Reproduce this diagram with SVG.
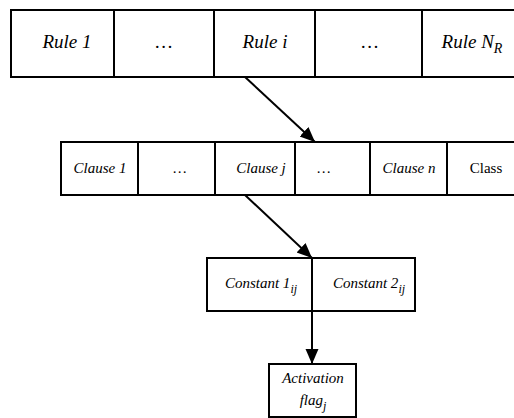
<svg xmlns="http://www.w3.org/2000/svg" width="514" height="418" viewBox="0 0 514 418">
<style>
.c{fill:#fff;stroke:#000;stroke-width:2}
text{font-family:"Liberation Serif","Times New Roman",serif;font-style:italic;fill:#000;text-anchor:middle}
.r{font-size:19px}
.s{font-size:15px}
.n{font-style:normal}
.sub{font-size:12px}
.e{stroke:#000;stroke-width:2;fill:none}
</style>
<defs>
<marker id="ah" markerUnits="userSpaceOnUse" markerWidth="16" markerHeight="14" refX="15" refY="6.5" orient="auto">
<path d="M0,0 L15,6.5 L0,13 z" fill="#000"/>
</marker>
</defs>
<g id="rule1"><rect class="c" x="11" y="10" width="103" height="67"/><text class="r" x="67" y="48">Rule 1</text></g>
<g id="rule-dots1"><rect class="c" x="114" y="10" width="100" height="67"/><text class="r" x="164" y="48">…</text></g>
<g id="rule-i"><rect class="c" x="214" y="10" width="101" height="67"/><text class="r" x="265" y="48">Rule i</text></g>
<g id="rule-dots2"><rect class="c" x="315" y="10" width="107" height="67"/><text class="r" x="370" y="48">…</text></g>
<g id="rule-nr"><rect class="c" x="422" y="10" width="96" height="67"/><text class="r" x="472" y="48">Rule N<tspan dy="5" font-size="14">R</tspan></text></g>

<g id="clause1"><rect class="c" x="61" y="142" width="77" height="53"/><text class="s" x="100" y="173">Clause 1</text></g>
<g id="clause-dots1"><rect class="c" x="138" y="142" width="77" height="53"/><text class="s" x="180" y="173">…</text></g>
<g id="clause-j"><rect class="c" x="215" y="142" width="80" height="53"/><text class="s" x="261" y="173">Clause j</text></g>
<g id="clause-dots2"><rect class="c" x="295" y="142" width="75" height="53"/><text class="s" x="324" y="173">…</text></g>
<g id="clause-n"><rect class="c" x="370" y="142" width="77" height="53"/><text class="s" x="409" y="173">Clause n</text></g>
<g id="class"><rect class="c" x="447" y="142" width="72" height="53"/><text class="s n" x="486" y="173">Class</text></g>

<g id="constant1"><rect class="c" x="207" y="258" width="105" height="53"/><text class="s" x="261" y="288">Constant 1<tspan class="sub" dy="5">ij</tspan></text></g>
<g id="constant2"><rect class="c" x="312" y="258" width="103" height="53"/><text class="s" x="369" y="288">Constant 2<tspan class="sub" dy="5">ij</tspan></text></g>

<g id="activation"><rect class="c" x="269" y="364" width="87" height="53"/><text class="s" x="313" y="383">Activation</text><text class="s" x="313" y="405">flag<tspan class="sub" dy="5">j</tspan></text></g>

<g id="connectors">
<line class="e" x1="245" y1="77" x2="315" y2="142" marker-end="url(#ah)"/>
<line class="e" x1="245" y1="195" x2="312" y2="258" marker-end="url(#ah)"/>
<line class="e" x1="312" y1="311" x2="312" y2="364" marker-end="url(#ah)"/>
</g>
</svg>
